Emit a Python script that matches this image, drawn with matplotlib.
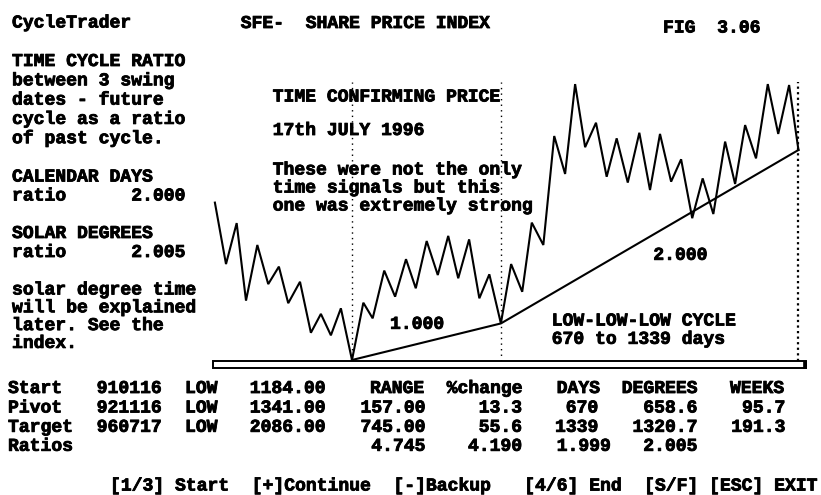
import matplotlib
matplotlib.use("Agg")
import matplotlib.pyplot as plt
import matplotlib.patheffects as pe
from matplotlib.patches import Rectangle

# ---------------- data ----------------
# zigzag swing points: days from Start (910116) and index level
swing_days = [-617, -567, -519, -477, -426, -377, -329, -287, -234, -185, -140, -95, -50,
              0, 51, 93, 145, 194, 243, 287, 336, 386, 433, 478, 527, 573, 618,
              670, 716, 766, 809, 861, 910, 959, 1004, 1049, 1098, 1146, 1191, 1241, 1293,
              1341, 1386, 1436, 1481, 1531, 1578, 1626, 1679, 1724, 1769, 1818, 1871, 1918,
              1967, 2009]
swing_price = [1860, 1596, 1772, 1439, 1678, 1510, 1585, 1428, 1520, 1301, 1382, 1290, 1406,
               1184, 1430, 1363, 1568, 1456, 1617, 1492, 1695, 1549, 1717, 1535, 1702, 1449, 1552,
               1341, 1596, 1477, 1774, 1678, 2146, 1983, 2369, 2098, 2203, 1971, 2136, 1946, 2160,
               1914, 2155, 1950, 2046, 1793, 1964, 1811, 2122, 1940, 2193, 2050, 2369, 2155,
               2365, 2086]

# cycle lows (Start, Pivot, Target)
cycle_days = [0, 670, 2009]
cycle_price = [1184, 1341, 2086]
cycle_ratio_labels = ["1.000", "2.000"]

# table
row_labels = ["Start", "Pivot", "Target", "Ratios"]
row_dates = ["910116", "921116", "960717"]
row_kind = ["LOW", "LOW", "LOW"]
row_level = ["1184.00", "1341.00", "2086.00"]
col_headers = ["RANGE", "%change", "DAYS", "DEGREES", "WEEKS"]
range_vals = ["157.00", "745.00", "4.745"]
pct_vals = ["13.3", "55.6", "4.190"]
days_vals = ["670", "1339", "1.999"]
deg_vals = ["658.6", "1320.7", "2.005"]
weeks_vals = ["95.7", "191.3"]

left_text = ["TIME CYCLE RATIO", "between 3 swing", "dates - future",
             "cycle as a ratio", "of past cycle."]
note_text = ["solar degree time", "will be explained", "later. See the", "index."]
chart_note = ["These were not the only", "time signals but this",
              "one was extremely strong"]
footer = ["[1/3] Start", "[+]Continue", "[-]Backup", "[4/6] End", "[S/F] [ESC] EXIT"]
footer_cols = [0, 13, 26, 38, 49]

# ---------------- figure ----------------
W, H = 821, 495
fig = plt.figure(figsize=(W / 100, H / 100), dpi=100)
fig.patch.set_facecolor("white")

ov = fig.add_axes([0, 0, 1, 1])
ov.set_xlim(0, W)
ov.set_ylim(H, 0)
ov.axis("off")

L, R, T, B = 213, 806, 82, 361
ax = fig.add_axes([L / W, (H - B) / H, (R - L) / W, (B - T) / H])
ax.set_xlim(-625.5, 2043)
ax.set_ylim(1179.7, 2378)
ax.axis("off")

# dotted verticals
for i, d in enumerate(cycle_days):
    if i < 2:
        ax.axvline(d, color="black", lw=1.0, ls=(0, (1, 3)))
    else:
        ax.axvline(d, color="black", lw=1.6, ls=(0, (1, 1.5)))

ax.plot(swing_days, swing_price, color="black", lw=1.5, solid_joinstyle="miter")
ax.plot(cycle_days, cycle_price, color="black", lw=1.5)

# scroll-bar like double line
ov.add_patch(Rectangle((L, 361), R - L, 7, fill=False, ec="black", lw=1.4))
ov.add_patch(Rectangle((R - 3, 361), 3, 7, fc="black", ec="black", lw=0.5))

FONT = dict(family=["Liberation Mono", "DejaVu Sans Mono"], weight="bold",
            size=13, color="black")
HEAVY = [pe.withStroke(linewidth=0.6, foreground="black")]


def t(x, yc, s, ha="left"):
    ov.text(x, yc + 5.5, s, ha=ha, va="baseline", path_effects=HEAVY, **FONT)


# header
t(12, 22, "CycleTrader")
t(240.7, 22.5, "SFE-  SHARE PRICE INDEX")
t(663, 27, "FIG  3.06")

# left panel
for k, s in enumerate(left_text):
    t(12, 60.5 + 19.3 * k, s)
t(12, 176, "CALENDAR DAYS")
t(12, 195, "ratio")
t(185, 195, "2.000", ha="right")
t(12, 232.5, "SOLAR DEGREES")
t(12, 251.5, "ratio")
t(185, 251.5, "2.005", ha="right")
for k, s in enumerate(note_text):
    t(12, 289 + 17.8 * k, s)

# chart annotations
t(272.7, 96, "TIME CONFIRMING PRICE")
t(272.7, 129.5, "17th JULY 1996")
for k, s in enumerate(chart_note):
    t(272.7, 169 + 18 * k, s)
t(390, 323.3, cycle_ratio_labels[0])
t(653.3, 254.3, cycle_ratio_labels[1])
t(551.7, 320, "LOW-LOW-LOW CYCLE")
t(551.7, 338.3, "670 to 1339 days")

# table
rows_y = [387.5, 407, 426.3, 445.3]
for k, s in enumerate(row_labels):
    t(8, rows_y[k], s)
for k in range(3):
    t(96.7, rows_y[k], row_dates[k])
    t(185, rows_y[k], row_kind[k])
    t(325, rows_y[k], row_level[k], ha="right")
hdr_x = [370, 446.7, 556.7, 621.7, 730]
for x, s in zip(hdr_x, col_headers):
    t(x, rows_y[0], s)
for k in range(3):
    y = rows_y[k + 1]
    t(425, y, range_vals[k], ha="right")
    t(521.7, y, pct_vals[k], ha="right")
    if k < 2:
        t(598, y, days_vals[k], ha="right")
    else:
        t(556.7, y, days_vals[k])
    t(697, y, deg_vals[k], ha="right")
    if k < 2:
        t(785, y, weeks_vals[k], ha="right")

# footer
for c, s in zip(footer_cols, footer):
    t(110 + 10.9 * c, 485, s)

fig.savefig("out.png", dpi=100, facecolor="white")
